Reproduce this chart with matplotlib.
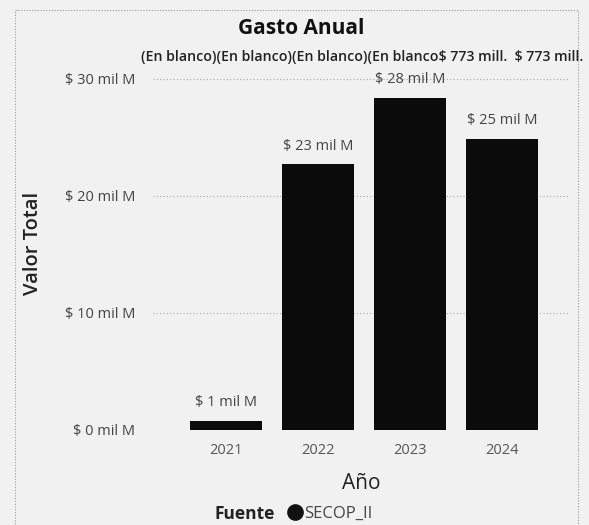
import numpy as np
import matplotlib
matplotlib.use("Agg")
import matplotlib.pyplot as plt
from matplotlib.patches import Rectangle
from matplotlib.lines import Line2D

plt.rcParams['font.family'] = ['Open Sans', 'DejaVu Sans']

# datos
anios = ["2021", "2022", "2023", "2024"]
valor_total = [0.8, 22.7, 28.4, 24.9]   # miles de millones
ticks_y = [0, 10, 20, 30]
etiquetas_blanco = "(En blanco)(En blanco)(En blanco)(En blanco$ 773 mill.  $ 773 mill."
fuente = "SECOP_II"

fondo = "#f1f1f1"
fig = plt.figure(figsize=(5.89, 5.25), dpi=100, facecolor=fondo)
W, H = 589, 525
# ejes: x 153..570 px, y 73..430 px
ax = fig.add_axes([153 / W, 1 - 430 / H, (570 - 153) / W, (430 - 73) / H])
ax.set_facecolor(fondo)

x = np.arange(len(anios))
ax.bar(x, valor_total, width=0.78, color="#0b0b0b", zorder=3)
ax.set_xlim(-0.79, 3.74)
ax.set_ylim(0, 30.5)

for xi, v in zip(x, valor_total):
    ax.annotate(f"$ {round(v)} mil M", (xi, v), xytext=(0, 13), textcoords="offset points",
                ha="center", va="center", fontsize=10.5, color="#444444")

ax.set_yticks(ticks_y)
ax.set_yticklabels([f"$ {t} mil M" for t in ticks_y], fontsize=10.5, color="#444444")
ax.set_xticks(x)
ax.set_xticklabels(anios, fontsize=10.5, color="#555555")
ax.tick_params(length=0)
ax.tick_params(axis="y", pad=13)
ax.tick_params(axis="x", pad=9)
ax.grid(axis="y", linestyle=(0, (1, 2)), color="#aaaaaa", linewidth=0.8, zorder=0)
for s in ax.spines.values():
    s.set_visible(False)

ax.set_xlabel("Año", fontsize=15, color="#222222", labelpad=11)
fig.text(33 / W, 1 - 243 / H, "Valor Total", rotation=90, ha="center", va="center",
         fontsize=14.5, fontweight="semibold", color="#222222")

fig.text(301 / W, 1 - 28 / H, "Gasto Anual", ha="center", va="center",
         fontsize=15, fontweight="bold", color="#111111")
fig.text(141 / W, 1 - 57 / H, etiquetas_blanco, ha="left", va="center",
         fontsize=10.2, fontweight="semibold", color="#222222", parse_math=False)

# leyenda
fig.text(215 / W, 1 - 514 / H, "Fuente", ha="left", va="center",
         fontsize=12.5, fontweight="bold", color="#222222")
handle = Line2D([], [], marker="o", linestyle="none", color="#111111", markersize=11)
fig.legend([handle], [fuente], loc="center left", bbox_to_anchor=(287 / W, 1 - 514 / H),
           frameon=False, handletextpad=0.0, handlelength=1.0, fontsize=12,
           labelcolor="#444444", borderaxespad=0, borderpad=0)

# marco punteado
fig.patches.append(Rectangle((15 / W, -0.02), (578 - 15) / W, 1 - 10 / H + 0.02,
                             transform=fig.transFigure, fill=False, linestyle=(0, (1, 1.5)),
                             edgecolor="#999999", linewidth=0.8))

fig.savefig("out.png", dpi=100, facecolor=fondo)
